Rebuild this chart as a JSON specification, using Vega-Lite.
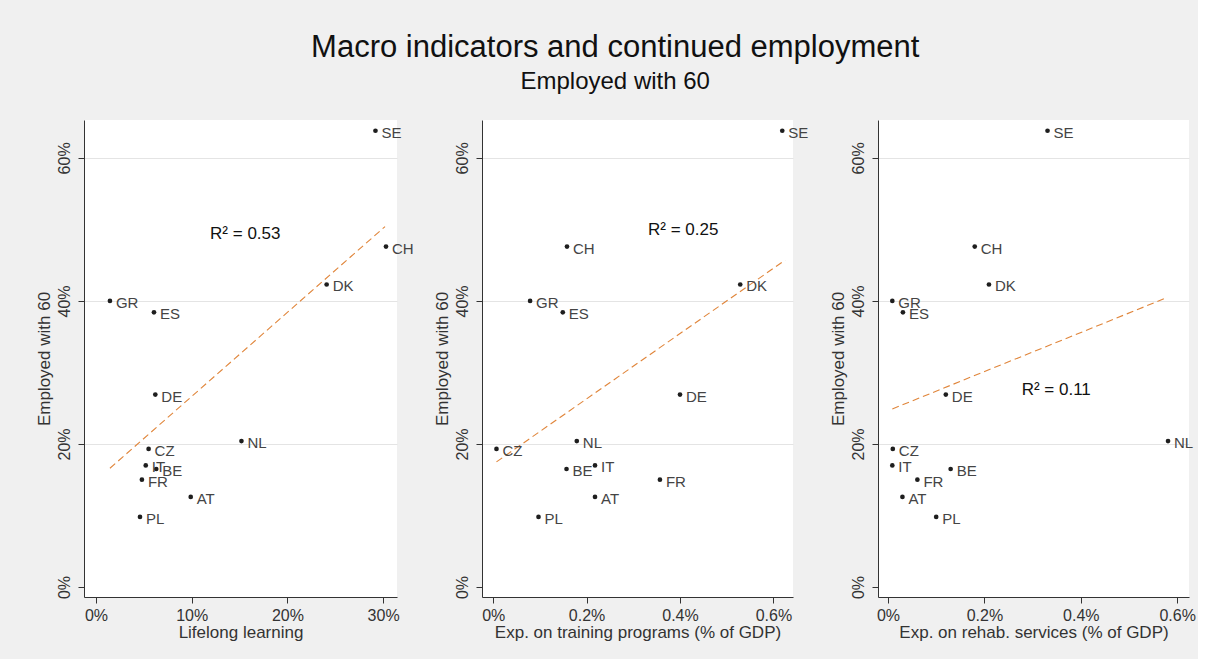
{
  "$schema": "https://vega.github.io/schema/vega-lite/v6.json",
  "padding": {"left": 35, "top": 32, "right": 2, "bottom": 19},
  "bounds": "flush",
  "spacing": 85,
  "title": {
    "text": "Macro indicators and continued employment",
    "subtitle": "Employed with 60",
    "anchor": "middle",
    "fontSize": 31,
    "subtitleFontSize": 24,
    "font": "Liberation Sans",
    "subtitleFont": "Liberation Sans",
    "fontWeight": "normal",
    "color": "#111111",
    "subtitleColor": "#111111",
    "subtitlePadding": 6,
    "offset": 25
  },
  "datasets": {
    "countries": [
      {"country": "SE", "emp": 63.8, "lll": 29.2, "train": 0.619, "rehab": 0.331},
      {"country": "CH", "emp": 47.6, "lll": 30.3, "train": 0.158, "rehab": 0.180},
      {"country": "DK", "emp": 42.3, "lll": 24.1, "train": 0.529, "rehab": 0.2095},
      {"country": "GR", "emp": 40.0, "lll": 1.46, "train": 0.079, "rehab": 0.009},
      {"country": "ES", "emp": 38.4, "lll": 6.06, "train": 0.149, "rehab": 0.031},
      {"country": "DE", "emp": 26.9, "lll": 6.2, "train": 0.400, "rehab": 0.120},
      {"country": "NL", "emp": 20.4, "lll": 15.2, "train": 0.179, "rehab": 0.581},
      {"country": "CZ", "emp": 19.3, "lll": 5.5, "train": 0.007, "rehab": 0.010},
      {"country": "IT", "emp": 17.0, "lll": 5.2, "train": 0.218, "rehab": 0.009},
      {"country": "BE", "emp": 16.5, "lll": 6.3, "train": 0.157, "rehab": 0.130},
      {"country": "FR", "emp": 15.0, "lll": 4.8, "train": 0.357, "rehab": 0.061},
      {"country": "AT", "emp": 12.6, "lll": 9.9, "train": 0.218, "rehab": 0.030},
      {"country": "PL", "emp": 9.8, "lll": 4.6, "train": 0.097, "rehab": 0.100}
    ],
    "fits": [
      {"panel": "lll", "x": 1.46, "emp": 16.6},
      {"panel": "lll", "x": 30.2, "emp": 50.4},
      {"panel": "train", "x": 0.007, "emp": 17.5},
      {"panel": "train", "x": 0.625, "emp": 45.7},
      {"panel": "rehab", "x": 0.009, "emp": 24.9},
      {"panel": "rehab", "x": 0.58, "emp": 40.5}
    ],
    "r2": [
      {"panel": "lll", "x": 15.6, "emp": 49.4, "label": "R² = 0.53"},
      {"panel": "train", "x": 0.407, "emp": 49.9, "label": "R² = 0.25"},
      {"panel": "rehab", "x": 0.349, "emp": 27.6, "label": "R² = 0.11"}
    ]
  },
  "hconcat": [
    {
      "width": 313,
      "height": 477,
      "layer": [
        {
          "data": {"name": "fits"},
          "transform": [{"filter": "datum.panel === 'lll'"}],
          "mark": {"type": "line", "color": "#e0853a", "strokeWidth": 1.1, "strokeDash": [7, 4]},
          "encoding": {
            "x": {"field": "x", "type": "quantitative", "title": "Lifelong learning", "scale": {"domain": [-1.25, 31.45], "nice": false, "zero": false}, "axis": {"values": [0, 10, 20, 30], "labelExpr": "datum.value + '%'"}},
            "y": {"field": "emp", "type": "quantitative", "title": "Employed with 60", "scale": {"domain": [-1.4, 65.3], "nice": false, "zero": false}, "axis": {"values": [0, 20, 40, 60], "labelExpr": "datum.value + '%'", "grid": true, "gridOpacity": {"condition": {"test": "datum.value === 0", "value": 0}, "value": 1}}}
          }
        },
        {
          "data": {"name": "countries"},
          "mark": {"type": "circle", "size": 22, "color": "#1e1e1e", "opacity": 1},
          "encoding": {
            "x": {"field": "lll", "type": "quantitative", "title": "Lifelong learning"},
            "y": {"field": "emp", "type": "quantitative", "title": "Employed with 60"}
          }
        },
        {
          "data": {"name": "countries"},
          "mark": {"type": "text", "align": "left", "baseline": "middle", "dx": 6, "dy": 2, "fontSize": 15, "color": "#444444"},
          "encoding": {
            "x": {"field": "lll", "type": "quantitative", "title": "Lifelong learning"},
            "y": {"field": "emp", "type": "quantitative", "title": "Employed with 60"},
            "text": {"field": "country"}
          }
        },
        {
          "data": {"name": "r2"},
          "transform": [{"filter": "datum.panel === 'lll'"}],
          "mark": {"type": "text", "align": "center", "baseline": "middle", "fontSize": 17, "color": "#111111"},
          "encoding": {
            "x": {"field": "x", "type": "quantitative", "title": "Lifelong learning"},
            "y": {"field": "emp", "type": "quantitative", "title": "Employed with 60"},
            "text": {"field": "label"}
          }
        }
      ]
    },
    {
      "width": 311,
      "height": 477,
      "layer": [
        {
          "data": {"name": "fits"},
          "transform": [{"filter": "datum.panel === 'train'"}],
          "mark": {"type": "line", "color": "#e0853a", "strokeWidth": 1.1, "strokeDash": [7, 4]},
          "encoding": {
            "x": {"field": "x", "type": "quantitative", "title": "Exp. on training programs (% of GDP)", "scale": {"domain": [-0.024, 0.642], "nice": false, "zero": false}, "axis": {"values": [0, 0.2, 0.4, 0.6], "labelExpr": "datum.value + '%'"}},
            "y": {"field": "emp", "type": "quantitative", "title": "Employed with 60", "scale": {"domain": [-1.4, 65.3], "nice": false, "zero": false}, "axis": {"values": [0, 20, 40, 60], "labelExpr": "datum.value + '%'", "grid": true, "gridOpacity": {"condition": {"test": "datum.value === 0", "value": 0}, "value": 1}}}
          }
        },
        {
          "data": {"name": "countries"},
          "mark": {"type": "circle", "size": 22, "color": "#1e1e1e", "opacity": 1},
          "encoding": {
            "x": {"field": "train", "type": "quantitative", "title": "Exp. on training programs (% of GDP)"},
            "y": {"field": "emp", "type": "quantitative", "title": "Employed with 60"}
          }
        },
        {
          "data": {"name": "countries"},
          "mark": {"type": "text", "align": "left", "baseline": "middle", "dx": 6, "dy": 2, "fontSize": 15, "color": "#444444"},
          "encoding": {
            "x": {"field": "train", "type": "quantitative", "title": "Exp. on training programs (% of GDP)"},
            "y": {"field": "emp", "type": "quantitative", "title": "Employed with 60"},
            "text": {"field": "country"}
          }
        },
        {
          "data": {"name": "r2"},
          "transform": [{"filter": "datum.panel === 'train'"}],
          "mark": {"type": "text", "align": "center", "baseline": "middle", "fontSize": 17, "color": "#111111"},
          "encoding": {
            "x": {"field": "x", "type": "quantitative", "title": "Exp. on training programs (% of GDP)"},
            "y": {"field": "emp", "type": "quantitative", "title": "Employed with 60"},
            "text": {"field": "label"}
          }
        }
      ]
    },
    {
      "width": 311,
      "height": 477,
      "layer": [
        {
          "data": {"name": "fits"},
          "transform": [{"filter": "datum.panel === 'rehab'"}],
          "mark": {"type": "line", "color": "#e0853a", "strokeWidth": 1.1, "strokeDash": [7, 4]},
          "encoding": {
            "x": {"field": "x", "type": "quantitative", "title": "Exp. on rehab. services (% of GDP)", "scale": {"domain": [-0.0207, 0.6245], "nice": false, "zero": false}, "axis": {"values": [0, 0.2, 0.4, 0.6], "labelExpr": "datum.value + '%'"}},
            "y": {"field": "emp", "type": "quantitative", "title": "Employed with 60", "scale": {"domain": [-1.4, 65.3], "nice": false, "zero": false}, "axis": {"values": [0, 20, 40, 60], "labelExpr": "datum.value + '%'", "grid": true, "gridOpacity": {"condition": {"test": "datum.value === 0", "value": 0}, "value": 1}}}
          }
        },
        {
          "data": {"name": "countries"},
          "mark": {"type": "circle", "size": 22, "color": "#1e1e1e", "opacity": 1},
          "encoding": {
            "x": {"field": "rehab", "type": "quantitative", "title": "Exp. on rehab. services (% of GDP)"},
            "y": {"field": "emp", "type": "quantitative", "title": "Employed with 60"}
          }
        },
        {
          "data": {"name": "countries"},
          "mark": {"type": "text", "align": "left", "baseline": "middle", "dx": 6, "dy": 2, "fontSize": 15, "color": "#444444"},
          "encoding": {
            "x": {"field": "rehab", "type": "quantitative", "title": "Exp. on rehab. services (% of GDP)"},
            "y": {"field": "emp", "type": "quantitative", "title": "Employed with 60"},
            "text": {"field": "country"}
          }
        },
        {
          "data": {"name": "r2"},
          "transform": [{"filter": "datum.panel === 'rehab'"}],
          "mark": {"type": "text", "align": "center", "baseline": "middle", "fontSize": 17, "color": "#111111"},
          "encoding": {
            "x": {"field": "x", "type": "quantitative", "title": "Exp. on rehab. services (% of GDP)"},
            "y": {"field": "emp", "type": "quantitative", "title": "Employed with 60"},
            "text": {"field": "label"}
          }
        }
      ]
    }
  ],
  "config": {
    "background": "#f0f0f0",
    "font": "Liberation Sans",
    "view": {"fill": "#ffffff", "stroke": null},
    "axis": {
      "domainColor": "#333333",
      "tickColor": "#333333",
      "labelColor": "#333333",
      "titleColor": "#333333",
      "labelFont": "Liberation Sans",
      "titleFont": "Liberation Sans",
      "labelFontSize": 16,
      "titleFontSize": 17,
      "titleFontWeight": "normal",
      "tickSize": 6,
      "labelPadding": 4,
      "titlePadding": 1,
      "gridColor": "#e4e4e4",
      "labelFlush": false,
      "labelOverlap": false
    },
    "axisX": {"grid": false},
    "axisY": {"labelAngle": -90, "labelAlign": "center", "labelBaseline": "bottom", "labelPadding": 6, "titlePadding": 3}
  }
}
